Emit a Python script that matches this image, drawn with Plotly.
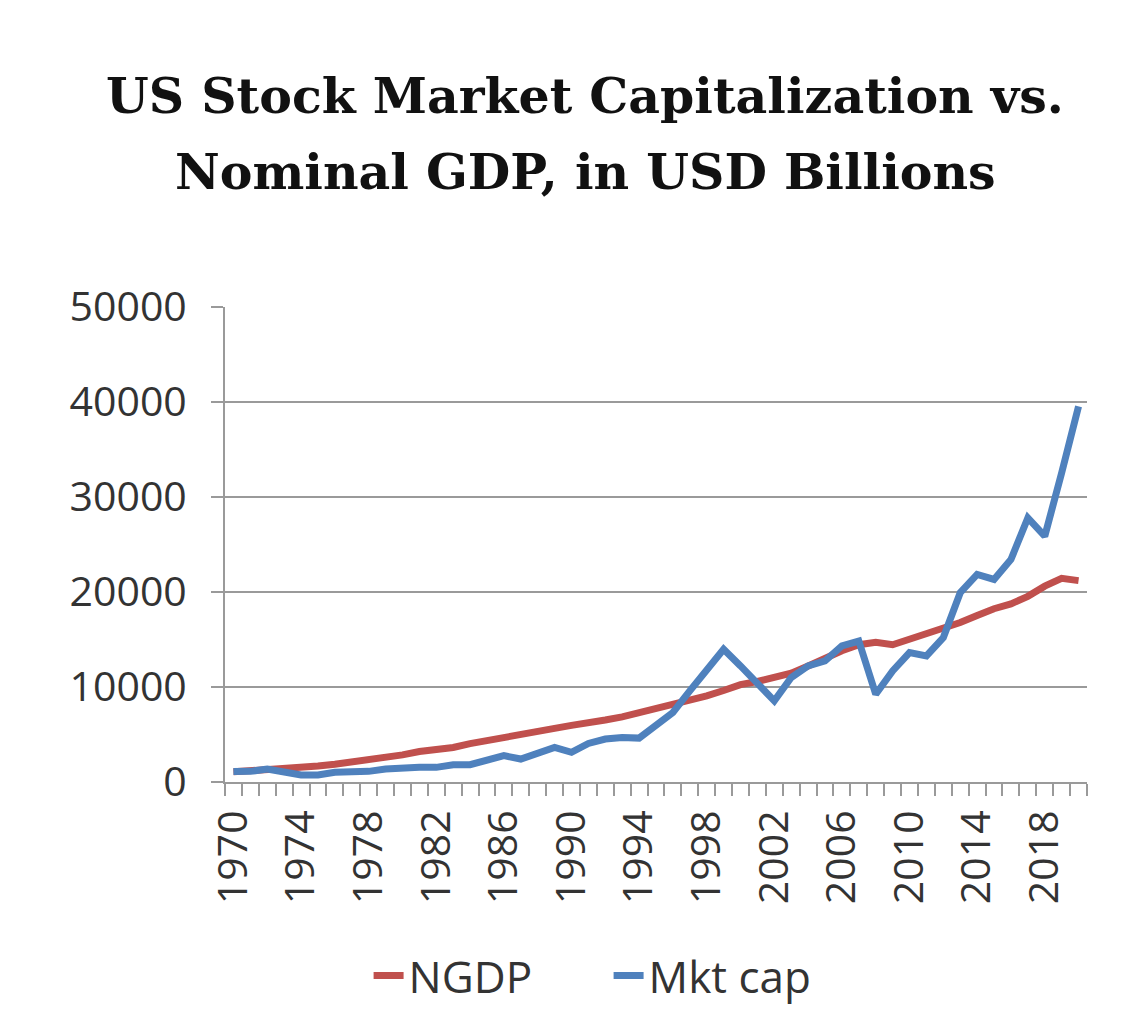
import plotly.graph_objects as go

years = list(range(1970, 2021))

# US nominal GDP, USD billions
ngdp = [1073, 1165, 1280, 1425, 1545, 1684, 1873, 2082, 2352, 2627,
        2857, 3207, 3343, 3634, 4037, 4339, 4580, 4855, 5236, 5642,
        5963, 6158, 6520, 6859, 7287, 7640, 8073, 8578, 9063, 9631,
        10252, 10582, 10936, 11458, 12214, 13037, 13815, 14452, 14713, 14449,
        14992, 15543, 16197, 16785, 17527, 18238, 18745, 19543, 20612, 21433,
        21200]

# US stock market capitalization, USD billions
mktcap = [1100, 1120, 1360, 1020, 740, 740, 1020, 1090, 1120, 1360,
          1540, 1540, 1540, 1820, 1820, 2310, 2770, 2420, 2940, 3640,
          3120, 4060, 4520, 4690, 4620, 6000, 7320, 9590, 11870, 13970,
          12220, 10470, 8540, 11000, 12220, 12740, 14320, 14840, 9240, 11690,
          13620, 13270, 15200, 19930, 21850, 21320, 23420, 27800, 25870, 32530,
          39530]

label_years = years[::4]

gray = "#9a9a9a"
tick_font = dict(family="Open Sans", size=41, color="#333333")
legend_font = dict(family="Open Sans", size=44, color="#333333")

fig = go.Figure()
fig.add_trace(go.Scatter(x=years, y=ngdp, name="NGDP", mode="lines",
                         line=dict(color="#C0504D", width=7)))
fig.add_trace(go.Scatter(x=years, y=mktcap, name="Mkt cap", mode="lines",
                         line=dict(color="#4F81BD", width=7)))

fig.update_xaxes(
    range=[1969.5, 2020.5],
    tickmode="array", tickvals=label_years, ticktext=[str(y) for y in label_years],
    tickangle=-90, ticks="", tickfont=tick_font, ticklabelstandoff=10,
    showline=True, linecolor=gray, linewidth=2, showgrid=False, zeroline=False,
    minor=dict(tick0=1969.5, dtick=1, ticks="outside", ticklen=12,
               tickcolor=gray, tickwidth=2, showgrid=False),
)
fig.update_yaxes(
    range=[0, 50000], dtick=10000, tickformat="d", tickfont=tick_font,
    ticks="outside", ticklen=12, tickcolor=gray, tickwidth=2, ticklabelstandoff=16,
    showline=True, linecolor=gray, linewidth=2,
    showgrid=True, gridcolor=gray, gridwidth=2, zeroline=False,
)

title_font = dict(family="DejaVu Serif", size=49, color="#111111")
fig.add_annotation(text="<b>US Stock Market Capitalization vs.</b>", x=0.418, y=1.445,
                   xref="paper", yref="paper", yanchor="middle", showarrow=False,
                   font=title_font)
fig.add_annotation(text="<b>Nominal GDP, in USD Billions</b>", x=0.418, y=1.284,
                   xref="paper", yref="paper", yanchor="middle", showarrow=False,
                   font=title_font)

fig.update_layout(
    width=1145, height=1014,
    margin=dict(l=217, r=66, t=299, b=239),
    paper_bgcolor="white", plot_bgcolor="white",
    legend=dict(orientation="h", x=0.445, xanchor="center", y=-0.405, yanchor="middle",
                font=legend_font, itemwidth=30, entrywidth=195),
)

fig.write_html("out.html")
